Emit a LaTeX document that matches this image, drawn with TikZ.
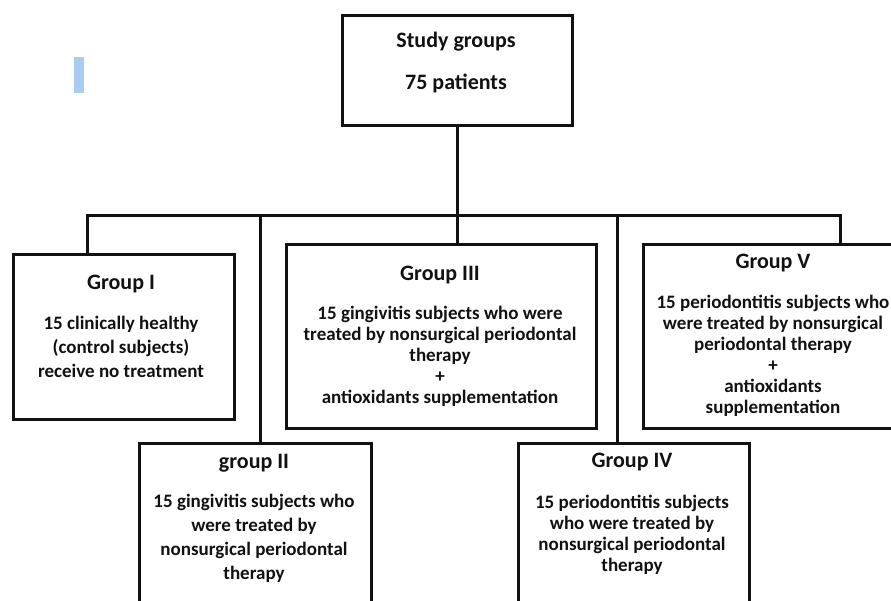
\documentclass[tikz,border=0pt]{standalone}
\usepackage{fontspec}
\setmainfont{Carlito}
\usepackage{tikz}
\usetikzlibrary{positioning}
\definecolor{ink}{HTML}{111111}
\definecolor{tab}{HTML}{A9CCF0}

\begin{document}
\begin{tikzpicture}[
      x=1pt, y=-1pt,
      box/.style={rectangle, draw=ink, line width=3pt, anchor=north west,
                  inner sep=0pt},
      ttl/.style={font=\fontsize{22pt}{26pt}\selectfont\bfseries, text=ink,
                  inner sep=0pt},
      bdy/.style={font=\fontsize{19pt}{24pt}\selectfont\bfseries, text=ink,
                  align=center, anchor=north, inner sep=0pt},
      bdt/.style={bdy, font=\fontsize{19pt}{21pt}\selectfont\bfseries},
      ln/.style={ink, line width=3pt, line cap=rect},
    ]
    \useasboundingbox (0,0) rectangle (891,600);
    \clip (0,0) rectangle (891,600);

    % stray marker
    \fill[tab] (74,57) rectangle (84,93);

    % root
    \node[box, minimum width=230pt, minimum height=110pt] (top) at (341,14) {};
    \node[ttl] (tS) at (456,42) {Study groups};
    \node[ttl] (tP) at (456,83) {75 patients};

    % upper row
    \node[box, minimum width=221pt, minimum height=165pt] (g1) at (12,253) {};
    \node[ttl] (g1t) at (121,284) {Group I};
    \node[bdy] (g1b) at (121,316)
      {15 clinically healthy\\(control subjects)\\receive no treatment};

    \node[box, minimum width=310pt, minimum height=184pt] (g3) at (285,243) {};
    \node[ttl] (g3t) at (440,275) {Group III};
    \node[bdt] (g3b) at (440,306)
      {15 gingivitis subjects who were\\treated by nonsurgical periodontal\\
       therapy\\+\\antioxidants supplementation};

    \node[box, minimum width=263pt, minimum height=184pt] (g5) at (642,243) {};
    \node[ttl] (g5t) at (773,263) {Group V};
    \node[bdt] (g5b) at (773,295)
      {15 periodontitis subjects who\\were treated by nonsurgical\\
       periodontal therapy\\+\\antioxidants\\supplementation};

    % lower row
    \node[box, minimum width=232pt, minimum height=200pt] (g2) at (138,442) {};
    \node[ttl] (g2t) at (254,463) {group II};
    \node[bdy] (g2b) at (254,494)
      {15 gingivitis subjects who\\were treated by\\nonsurgical periodontal\\therapy};

    \node[box, minimum width=231pt, minimum height=200pt] (g4) at (517,442) {};
    \node[ttl] (g4t) at (632,462) {Group IV};
    \node[bdt] (g4b) at (632,495)
      {15 periodontitis subjects\\who were treated by\\nonsurgical periodontal\\therapy};

    % tree
    \coordinate (jl) at (87,215);
    \coordinate (jr) at (840,215);
    \coordinate (j2) at (260,215);
    \coordinate (j4) at (617,215);
    \draw[ln] (jl) -- (jr);
    \draw[ln] (top.south) -- (top.south |- jl);
    \draw[ln] (jl) -- (jl |- g1.north);
    \draw[ln] (j2) -- (j2 |- g2.north);
    \draw[ln] (top.south |- jl) -- (top.south |- g3.north);
    \draw[ln] (j4) -- (j4 |- g4.north);
    \draw[ln] (jr) -- (jr |- g5.north);
\end{tikzpicture}
\end{document}
